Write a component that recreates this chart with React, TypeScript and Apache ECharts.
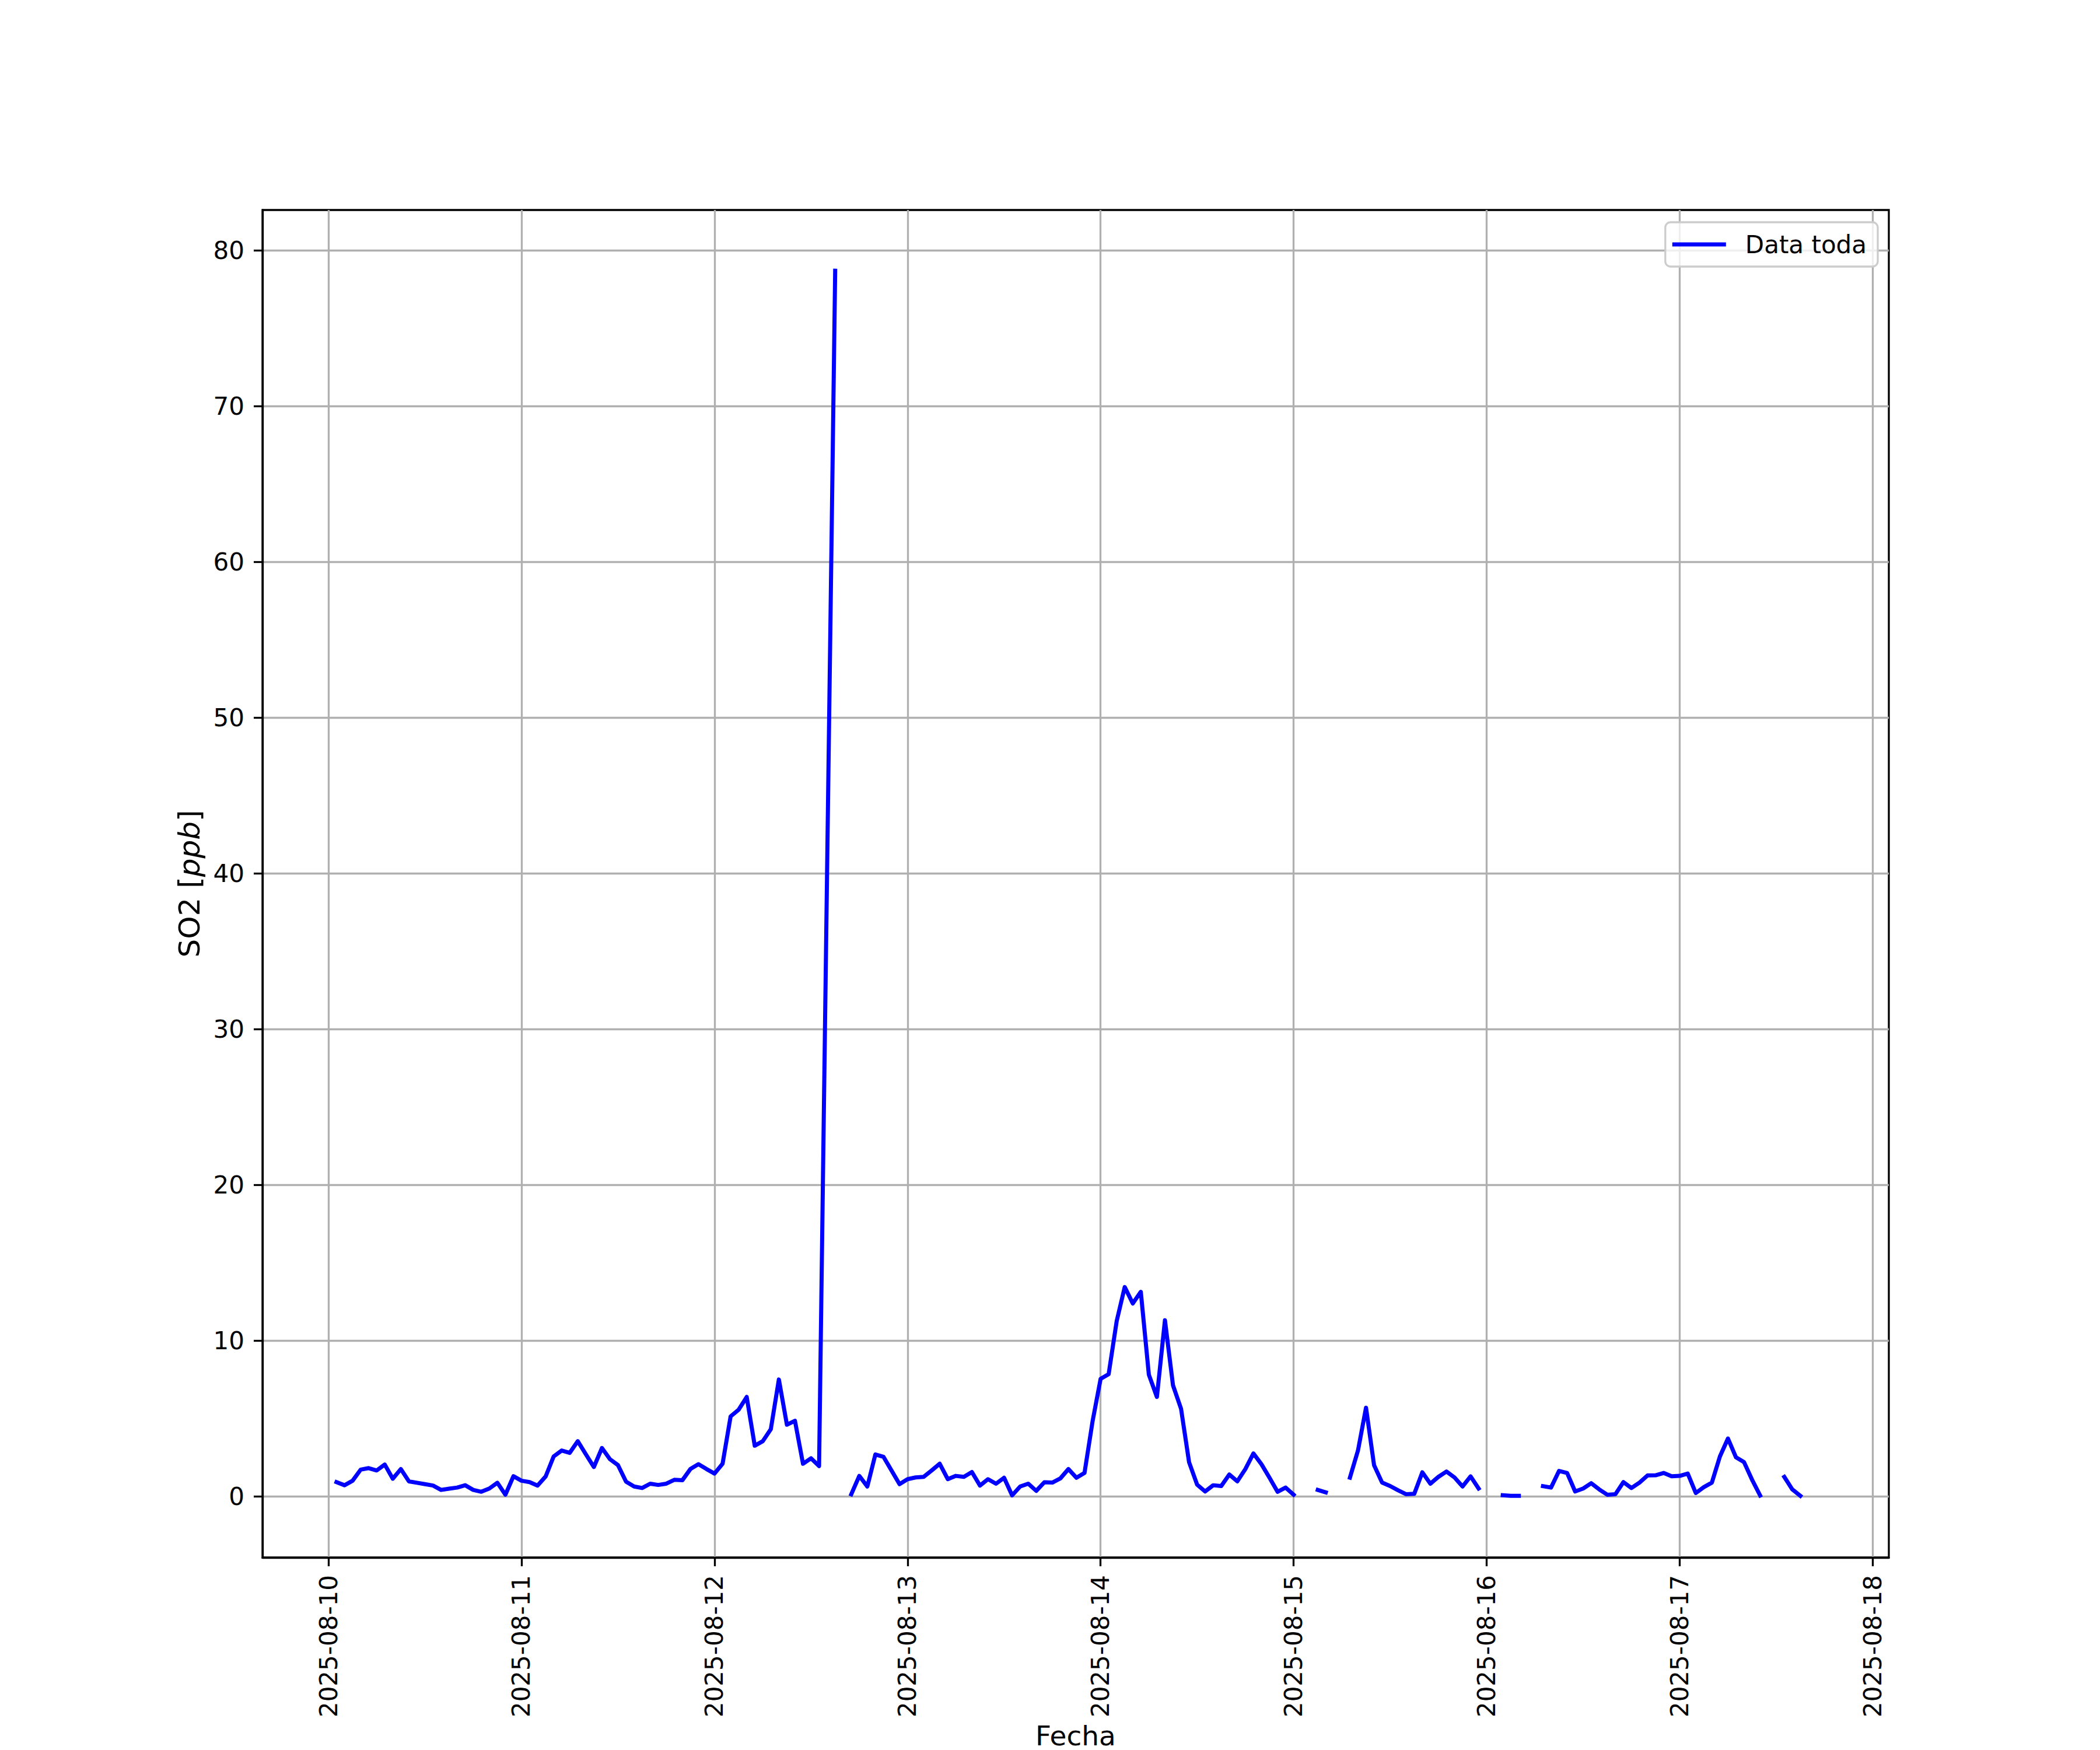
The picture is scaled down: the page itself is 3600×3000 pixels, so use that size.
import React, { useEffect, useRef } from "react";
import * as echarts from "echarts";

// Hourly SO2 readings starting 2025-08-10 01:00 (UTC); null = missing (line break)
const FIRST_READING = Date.UTC(2025, 7, 10, 1);
const HOUR_MS = 3600 * 1000;
const so2Values: (number | null)[] = [
  0.91, 0.71, 1.0, 1.71, 1.81, 1.66, 2.04, 1.13, 1.75, 0.96,
  0.87, 0.78, 0.69, 0.41, 0.49, 0.56, 0.71, 0.41, 0.29, 0.5,
  0.87, 0.1, 1.29, 1.0, 0.91, 0.69, 1.27, 2.56, 2.94, 2.79,
  3.54, 2.7, 1.88, 3.1, 2.38, 2.0, 0.94, 0.63, 0.53, 0.81,
  0.73, 0.81, 1.06, 1.03, 1.75, 2.06, 1.75, 1.46, 2.09, 5.13,
  5.56, 6.38, 3.25, 3.54, 4.31, 7.5, 4.6, 4.85, 2.09, 2.44,
  1.94, null, 78.7, null, 0.13, 1.31, 0.63, 2.69, 2.54, 1.66,
  0.78, 1.1, 1.21, 1.25, 1.66, 2.09, 1.1, 1.31, 1.25, 1.56,
  0.69, 1.1, 0.81, 1.19, 0.06, 0.63, 0.81, 0.35, 0.9, 0.88,
  1.15, 1.75, 1.19, 1.5, 4.81, 7.54, 7.84, 11.25, 13.44, 12.38,
  13.13, 7.81, 6.38, 11.31, 7.13, 5.63, 2.19, 0.75, 0.31, 0.71,
  0.66, 1.4, 0.96, 1.75, 2.75, 2.06, 1.19, 0.29, 0.56, 0.1,
  null, null, 0.41, 0.25, null, null, 1.2, 2.94, 5.69, 2.0,
  0.88, 0.66, 0.38, 0.13, 0.16, 1.54, 0.81, 1.25, 1.59, 1.21,
  0.63, 1.28, 0.5, null, null, 0.07, 0.03, 0.03, null, null,
  0.65, 0.56, 1.63, 1.5, 0.31, 0.5, 0.84, 0.44, 0.1, 0.13,
  0.91, 0.53, 0.88, 1.34, 1.35, 1.5, 1.29, 1.31, 1.46, 0.21,
  0.59, 0.88, 2.56, 3.71, 2.5, 2.19, 1.06, 0.05, null, null,
  1.25, 0.44, 0.03,
];
// hour slots (0-based from first reading) absent from the record: the line joins across them
const absentSlots = [61];

const dayTicks = [
  "2025-08-10", "2025-08-11", "2025-08-12", "2025-08-13", "2025-08-14",
  "2025-08-15", "2025-08-16", "2025-08-17", "2025-08-18",
];
const yTicks = [0, 10, 20, 30, 40, 50, 60, 70, 80];
const seriesName = "Data toda";
const xTitle = "Fecha";

const FONT = "DejaVu Sans";

export default function App() {
  const ref = useRef<HTMLDivElement>(null);
  useEffect(() => {
    if (!ref.current) return;
    const chart = echarts.init(ref.current, undefined, { renderer: "svg" });
    const data: any[] = [];
    so2Values.forEach((v, i) => {
      if (absentSlots.includes(i)) return;
      data.push([FIRST_READING + i * HOUR_MS, v === null ? "-" : v]);
    });
    const dayTickValues = dayTicks.map((d) => Date.parse(d + "T00:00:00Z"));
    const day0 = dayTickValues[0];
    const option: any = {
      animation: false,
      backgroundColor: "#ffffff",
      textStyle: { fontFamily: FONT },
      grid: {
        left: 450,
        right: 362,
        top: 360,
        bottom: 330,
        containLabel: false,
        outerBoundsMode: "none",
        show: true,
        borderColor: "#000000",
        borderWidth: 3.3,
        backgroundColor: "transparent",
      },
      legend: {
        show: true,
        right: 381,
        top: 381,
        data: [seriesName],
        icon: "rect",
        itemWidth: 92,
        itemHeight: 7,
        padding: [14, 19, 14, 12],
        backgroundColor: "rgba(255,255,255,0.8)",
        borderColor: "#cccccc",
        borderWidth: 3.3,
        borderRadius: 9,
        textStyle: {
          fontFamily: FONT,
          fontSize: 42,
          color: "#000000",
          padding: [0, 0, 0, 28],
          lineHeight: 48,
        },
      },
      xAxis: {
        type: "value",
        min: day0 - 8.2 * HOUR_MS,
        max: day0 + 194 * HOUR_MS,
        name: xTitle,
        nameLocation: "middle",
        nameGap: 276,
        nameTextStyle: { fontFamily: FONT, fontSize: 47, lineHeight: 40, color: "#000000" },
        axisLine: { show: true, onZero: false, lineStyle: { color: "#000000", width: 3.3 } },
        axisTick: {
          show: true,
          length: 15,
          lineStyle: { color: "#000000", width: 3.3 },
          customValues: dayTickValues,
        },
        axisLabel: {
          show: true,
          rotate: 90,
          margin: 30,
          fontFamily: FONT,
          fontSize: 42,
          color: "#000000",
          customValues: dayTickValues,
          formatter: (val: number) => new Date(val).toISOString().slice(0, 10),
        },
        splitLine: { show: true, lineStyle: { color: "#b0b0b0", width: 3.3 } },
      },
      yAxis: {
        type: "value",
        min: -3.93,
        max: 82.6,
        name: "{n|SO2 [}{i|ppb}{n|]}",
        nameLocation: "middle",
        nameRotate: 90,
        nameGap: 100,
        nameTextStyle: {
          fontFamily: FONT,
          fontSize: 50,
          color: "#000000",
          rich: {
            n: { fontFamily: FONT, fontSize: 50, color: "#000000" },
            i: { fontFamily: FONT, fontSize: 50, fontStyle: "italic", color: "#000000" },
          },
        },
        axisLine: { show: true, onZero: false, lineStyle: { color: "#000000", width: 3.3 } },
        axisTick: {
          show: true,
          length: 15,
          lineStyle: { color: "#000000", width: 3.3 },
          customValues: yTicks,
        },
        axisLabel: {
          show: true,
          margin: 31,
          fontFamily: FONT,
          fontSize: 42,
          color: "#000000",
          customValues: yTicks,
        },
        splitLine: { show: true, lineStyle: { color: "#b0b0b0", width: 3.3 } },
      },
      series: [
        {
          name: seriesName,
          type: "line",
          data,
          showSymbol: false,
          symbol: "none",
          connectNulls: false,
          color: "#0000ff",
          itemStyle: { color: "#0000ff" },
          lineStyle: { color: "#0000ff", width: 7, cap: "square", join: "round" },
        },
      ],
    };
    chart.setOption(option);
    return () => chart.dispose();
  }, []);
  return (
    <div
      ref={ref}
      style={{ position: "absolute", left: 0, top: 0, width: 3600, height: 3000 }}
    />
  );
}
